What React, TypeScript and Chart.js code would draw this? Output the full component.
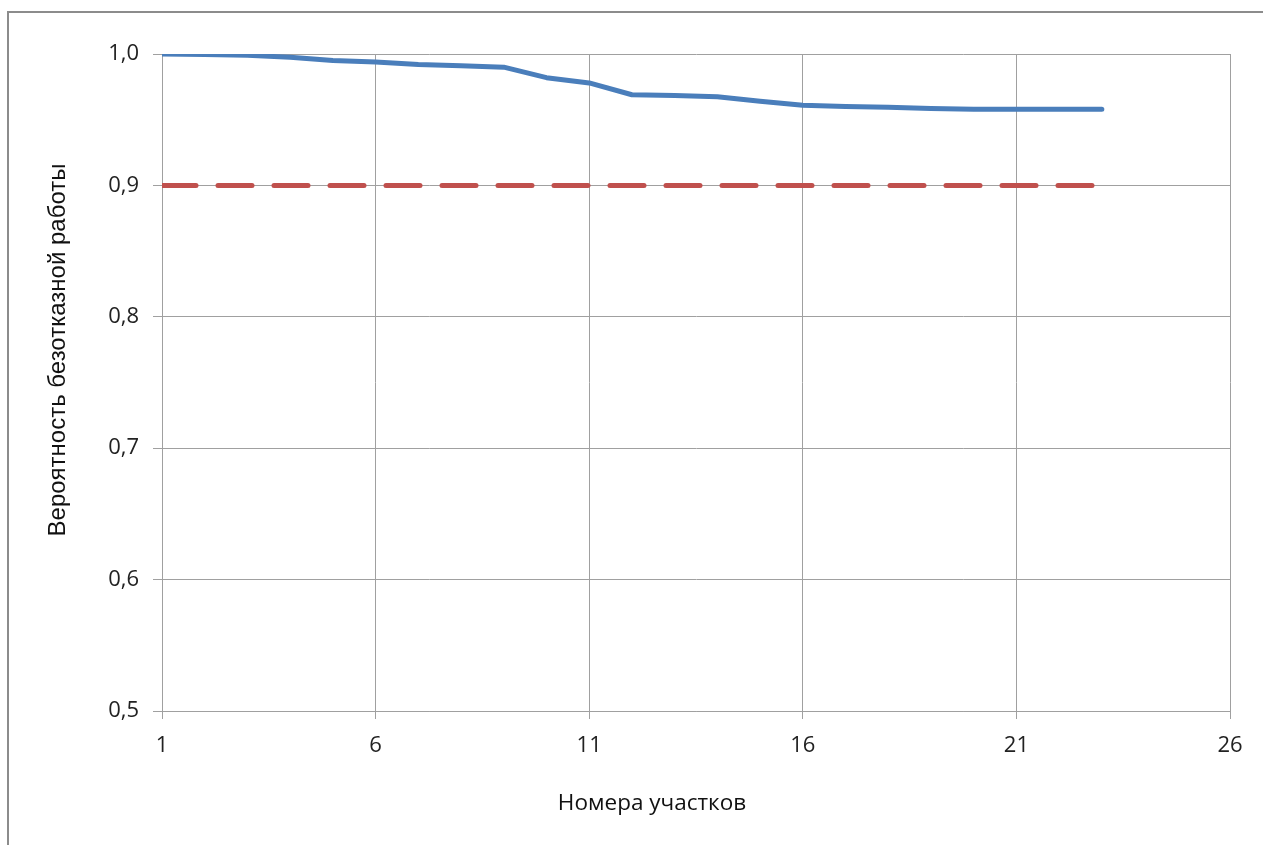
import React, { useEffect, useRef } from "react";
import { Chart, registerables } from "chart.js";

Chart.register(...registerables);

const sectionNumbers = [1, 2, 3, 4, 5, 6, 7, 8, 9, 10, 11, 12, 13, 14, 15, 16, 17, 18, 19, 20, 21, 22, 23];
const reliability = [
  1.0, 0.9997, 0.999, 0.9975, 0.995, 0.994, 0.992, 0.991, 0.99, 0.982, 0.978, 0.969,
  0.9685, 0.9675, 0.964, 0.961, 0.96, 0.9595, 0.9585, 0.958, 0.958, 0.958, 0.958,
];
const thresholdX = [1, 23];
const thresholdY = [0.9, 0.9];
const xTitle = "Номера участков";
const yTitle = "Вероятность безотказной работы";

const PLOT_LEFT = 162;
const PLOT_RIGHT = 1230;
const PLOT_TOP = 54;
const PLOT_BOTTOM = 711;
const W = 1263;
const H = 845;

const titlesPlugin = {
  id: "axisTitlesCustom",
  afterDraw(chart: any) {
    const ctx = chart.ctx;
    ctx.save();
    ctx.fillStyle = "#111";
    ctx.textAlign = "center";
    ctx.textBaseline = "middle";
    ctx.font = "22.5px 'Open Sans'";
    ctx.fillText(xTitle, 652, 804);
    ctx.translate(58, 350);
    ctx.rotate(-Math.PI / 2);
    ctx.font = "24px 'Liberation Sans'";
    ctx.fillText(yTitle, 0, 0);
    ctx.restore();
  },
};

export default function App() {
  const ref = useRef<HTMLCanvasElement>(null);
  useEffect(() => {
    if (!ref.current) return;
    const chart = new Chart(ref.current, {
      type: "line",
      data: {
        datasets: [
          {
            label: "P",
            data: sectionNumbers.map((x, i) => ({ x, y: reliability[i] })),
            borderColor: "#4A7EBB",
            borderWidth: 5,
            borderCapStyle: "round",
            borderJoinStyle: "round",
            pointRadius: 0,
            tension: 0,
            fill: false,
          },
          {
            label: "threshold",
            data: thresholdX.map((x, i) => ({ x, y: thresholdY[i] })),
            borderColor: "#C0504D",
            borderWidth: 5,
            borderDash: [34, 22],
            borderCapStyle: "round",
            pointRadius: 0,
            fill: false,
          },
        ],
      },
      options: {
        animation: false,
        responsive: false,
        maintainAspectRatio: false,
        layout: { padding: { left: 0, top: PLOT_TOP, right: W - PLOT_RIGHT, bottom: 0 } },
        plugins: { legend: { display: false }, tooltip: { enabled: false } },
        scales: {
          x: {
            type: "linear",
            min: 1,
            max: 26,
            afterFit: (s: any) => {
              s.height = H - PLOT_BOTTOM;
            },
            ticks: {
              stepSize: 5,
              color: "#222",
              padding: 14,
              font: { family: "'Open Sans'", size: 22 },
              maxRotation: 0,
            },
            grid: { color: "#a0a0a0", lineWidth: 1, tickLength: 8 },
            border: { color: "#a0a0a0" },
          },
          y: {
            type: "linear",
            min: 0.5,
            max: 1.0,
            afterFit: (s: any) => {
              s.width = PLOT_LEFT;
            },
            ticks: {
              stepSize: 0.1,
              color: "#222",
              padding: 14,
              font: { family: "'Open Sans'", size: 22 },
              callback: (v: any) => Number(v).toFixed(1).replace(".", ","),
            },
            grid: { color: "#a0a0a0", lineWidth: 1, tickLength: 9 },
            border: { color: "#a0a0a0" },
          },
        },
      },
      plugins: [titlesPlugin],
    } as any);
    return () => chart.destroy();
  }, []);

  return (
    <div style={{ position: "fixed", left: 0, top: 0, width: W, height: H, overflow: "hidden", background: "#fff" }}>
      <div
        style={{
          position: "absolute",
          left: 7,
          top: 11,
          width: 1400,
          height: 1000,
          border: "2px solid #8c8c8c",
          boxSizing: "border-box",
        }}
      />
      <canvas ref={ref} width={W} height={H} style={{ position: "absolute", left: 0, top: 0, width: W, height: H }} />
    </div>
  );
}
